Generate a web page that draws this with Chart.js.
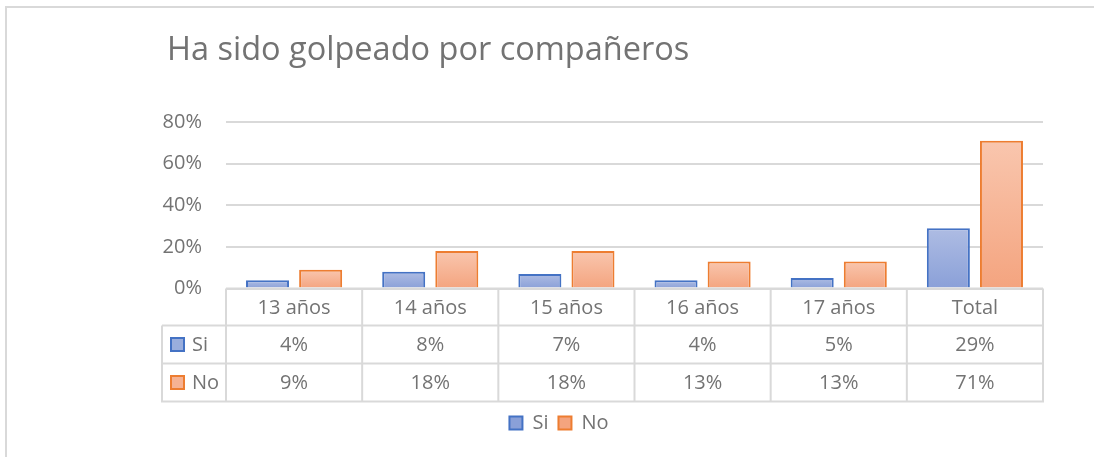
<!DOCTYPE html>
<html lang="es">
<head>
  <meta charset="UTF-8" />
  <title>Ha sido golpeado por compañeros</title>
  <script src="https://cdn.jsdelivr.net/npm/chart.js"></script>
  <style>
    html, body { margin:0; padding:0; background:#fff; overflow:hidden; }
    #frame { position:absolute; left:5px; top:6px; width:2000px; height:2000px; border:2px solid #d9d9d9; }
    #chart { position:absolute; left:0; top:0; display:block; }
  </style>
</head>
<body>
  <div id="frame"></div>
  <canvas id="chart" width="1094" height="457"></canvas>

  <script>
    // data (percent)
    const chartTitle = 'Ha sido golpeado por compañeros';
    const categories = ['13 años', '14 años', '15 años', '16 años', '17 años', 'Total'];
    const siValues = [4, 8, 7, 4, 5, 29];
    const noValues = [9, 18, 18, 13, 13, 71];
    const yTicks = [0, 20, 40, 60, 80];

    const FONT = "'Open Sans', sans-serif";
    const TEXT = '#737373';
    const LINE = '#d9d9d9';

    // gradient from the top of each bar down to the axis, like the Excel fill
    function barFill(top, bottom, flat) {
      return function (c) {
        if (c.type !== 'data') return flat;
        const y = c.chart.scales.y;
        if (!y) return flat;
        const y0 = y.getPixelForValue(0);
        const y1 = y.getPixelForValue(c.raw);
        if (!isFinite(y0) || !isFinite(y1) || y0 === y1) return flat;
        const g = c.chart.ctx.createLinearGradient(0, y1, 0, y0);
        g.addColorStop(0, top);
        g.addColorStop(1, bottom);
        return g;
      };
    }

    const series = [
      { label: 'Si', data: siValues, border: '#4472c4', fill: barFill('#aebce3', '#8aa0d8', '#9aaedd') },
      { label: 'No', data: noValues, border: '#ed7d31', fill: barFill('#f9c6ae', '#f4a47f', '#f6b293') }
    ];

    // title + data table under the plot
    const tablePlugin = {
      id: 'dataTable',
      afterDraw(chart) {
        const { ctx, chartArea } = chart;
        const x = chart.scales.x;
        const left = chartArea.left, right = chartArea.right;
        const colW = (right - left) / categories.length;
        const keyLeft = left - 64;
        const rows = [chartArea.bottom, chartArea.bottom + 37, chartArea.bottom + 75, chartArea.bottom + 113];

        ctx.save();
        // title
        ctx.font = '32.5px ' + FONT;
        ctx.fillStyle = TEXT;
        ctx.textAlign = 'left';
        ctx.textBaseline = 'alphabetic';
        ctx.fillText(chartTitle, 167, 60);

        // grid of the table
        ctx.strokeStyle = LINE;
        ctx.lineWidth = 2;
        ctx.beginPath();
        ctx.moveTo(left, rows[0]); ctx.lineTo(right, rows[0]);
        for (let r = 1; r < rows.length; r++) {
          ctx.moveTo(keyLeft, rows[r]); ctx.lineTo(right + 1, rows[r]);
        }
        for (let i = 0; i <= categories.length; i++) {
          const cx = left + i * colW;
          ctx.moveTo(cx, rows[0]); ctx.lineTo(cx, rows[3] + 1);
        }
        ctx.moveTo(keyLeft, rows[1]); ctx.lineTo(keyLeft, rows[3] + 1);
        ctx.stroke();

        // text
        ctx.font = '20px ' + FONT;
        ctx.fillStyle = TEXT;
        ctx.textAlign = 'center';
        ctx.textBaseline = 'middle';
        categories.forEach((cat, i) => {
          const cx = x.getPixelForValue(i);
          ctx.fillText(cat, cx, (rows[0] + rows[1]) / 2 + 1);
          ctx.fillText(siValues[i] + '%', cx, (rows[1] + rows[2]) / 2 + 1);
          ctx.fillText(noValues[i] + '%', cx, (rows[2] + rows[3]) / 2 + 1);
        });

        // legend keys in the first column
        series.forEach((s, k) => {
          const cy = (rows[k + 1] + rows[k + 2]) / 2;
          ctx.fillStyle = s.fill({ type: 'dataset' });
          ctx.fillRect(keyLeft + 9, cy - 6.5, 13, 13);
          ctx.strokeStyle = s.border;
          ctx.lineWidth = 2;
          ctx.strokeRect(keyLeft + 9, cy - 6.5, 13, 13);
          ctx.fillStyle = TEXT;
          ctx.textAlign = 'left';
          ctx.fillText(s.label, keyLeft + 30, cy + 1);
        });
        ctx.restore();
      }
    };

    new Chart(document.getElementById('chart'), {
      type: 'bar',
      data: {
        labels: categories,
        datasets: series.map(s => ({
          label: s.label,
          data: s.data,
          backgroundColor: s.fill,
          borderColor: s.border,
          borderWidth: 2,
          barPercentage: 0.81,
          categoryPercentage: 0.78
        }))
      },
      options: {
        responsive: false,
        animation: false,
        layout: { padding: { left: 75, right: 51, top: 122, bottom: 14 } },
        scales: {
          x: {
            grid: { display: false },
            border: { display: false },
            ticks: { display: false },
            afterFit: s => { s.height = 114.5; }
          },
          y: {
            min: 0,
            max: 80,
            afterFit: s => { s.width = 151; },
            afterBuildTicks: s => { s.ticks = yTicks.map(v => ({ value: v })); },
            border: { display: false },
            grid: { color: LINE, lineWidth: 2, drawTicks: false },
            ticks: {
              padding: 24,
              color: TEXT,
              font: { family: FONT, size: 20 },
              callback: v => v + '%'
            }
          }
        },
        plugins: {
          legend: {
            position: 'bottom',
            labels: {
              boxWidth: 13,
              boxHeight: 13,
              padding: 10,
              color: TEXT,
              font: { family: FONT, size: 20 }
            }
          },
          tooltip: { enabled: false }
        }
      },
      plugins: [tablePlugin]
    });
  </script>
</body>
</html>
